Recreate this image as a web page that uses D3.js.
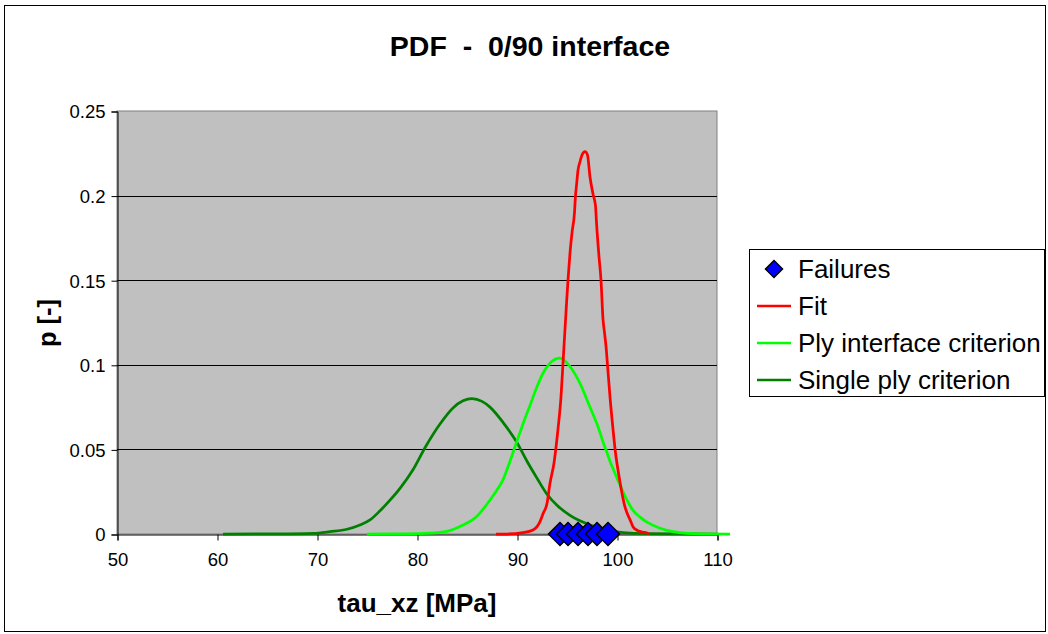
<!DOCTYPE html>
<html><head><meta charset="utf-8">
<script src="https://cdn.jsdelivr.net/npm/d3@7"></script>
<style>body{margin:0;background:#fff}svg text{font-family:Arial,"Liberation Sans",sans-serif}</style>
</head><body>
<svg id="c" width="1048" height="634"></svg>
<script>
const xTicks = [50,60,70,80,90,100,110];
const yTicks = [0,0.05,0.1,0.15,0.2,0.25];
const yTickLabels = ["0","0.05","0.1","0.15","0.2","0.25"];
const failures = [94.3,95.1,96.1,97.1,98.0,99.1];
const fit = [[87.9,0],[89,0],[90.6,0.0008],[91.6,0.0024],[92.3,0.0073],[92.6,0.012],[93.0,0.018],[93.3,0.030],[93.7,0.042],[94.1,0.062],[94.4,0.081],[94.6,0.101],[94.8,0.121],[94.95,0.136],[95.1,0.150],[95.3,0.166],[95.5,0.178],[95.75,0.190],[95.85,0.200],[95.95,0.206],[96.1,0.215],[96.3,0.220],[96.5,0.224],[96.8,0.226],[97.05,0.224],[97.3,0.211],[97.6,0.201],[97.85,0.194],[97.95,0.184],[98.2,0.164],[98.4,0.150],[98.6,0.127],[98.75,0.119],[98.9,0.111],[99.05,0.100],[99.3,0.081],[99.6,0.062],[99.85,0.048],[100.15,0.036],[100.5,0.024],[100.8,0.016],[101.1,0.011],[101.3,0.0085],[101.6,0.0043],[102.0,0.0022],[102.5,0.0012],[103.0,0.0006],[103.2,0]];
const plyInterface = [[75,0],[79,0.0001],[81.3,0.0005],[83.0,0.0016],[84.6,0.0053],[86.0,0.0105],[87.3,0.0201],[88.0,0.026],[88.6,0.032],[89.3,0.043],[90.0,0.055],[90.6,0.065],[91.3,0.076],[92.0,0.087],[92.6,0.095],[93.3,0.101],[94.3,0.104],[95.3,0.099],[96.3,0.089],[97.3,0.075],[98.0,0.065],[98.3,0.060],[98.6,0.0545],[99.0,0.048],[99.3,0.043],[99.65,0.038],[100.0,0.033],[100.3,0.029],[100.6,0.025],[101.0,0.020],[101.6,0.014],[102.3,0.010],[103.0,0.0070],[104.3,0.0034],[105.6,0.0014],[107,0.0004],[108.5,0.0001],[111.3,0]];
const singlePly = [[60.6,0],[66,0.0001],[69.6,0.0004],[71.3,0.0014],[73.0,0.0028],[74.3,0.0053],[75.3,0.0083],[76.3,0.0137],[77.3,0.020],[78.3,0.027],[79.6,0.038],[80.8,0.051],[82.3,0.065],[83.6,0.0745],[84.6,0.0787],[85.5,0.080],[86.5,0.0784],[87.3,0.075],[88.6,0.066],[90.0,0.054],[91.0,0.043],[92.0,0.033],[93.0,0.0235],[94.0,0.017],[95.3,0.011],[97.0,0.006],[98.5,0.003],[100.6,0.0008],[103,0.0002],[110,0]];
const legendItems = ["Failures","Fit","Ply interface criterion","Single ply criterion"];
const colors = {fit:"#FF0000", ply:"#00FF00", single:"#008000", fail:"#0000FF"};

const svg = d3.select("#c");
const L=117, R=717, T=111, B=534;
const x = d3.scaleLinear().domain([50,110]).range([L,R]);
const y = d3.scaleLinear().domain([0,0.25]).range([B,T]);

svg.append("rect").attr("x",4.5).attr("y",5.5).attr("width",1041).attr("height",626).attr("fill","#fff").attr("stroke","#000").attr("stroke-width",1);

svg.append("rect").attr("x",L).attr("y",T).attr("width",R-L).attr("height",B-T).attr("fill","#C0C0C0").attr("stroke","#808080").attr("stroke-width",1);

// gridlines
svg.append("g").selectAll("line").data(yTicks.slice(1,-1)).join("line")
  .attr("x1",L).attr("x2",R).attr("y1",d=>Math.round(y(d))+0.5).attr("y2",d=>Math.round(y(d))+0.5)
  .attr("stroke","#000").attr("stroke-width",1);

// axes
const yAxis = d3.axisLeft(y).tickValues(yTicks).tickFormat((d,i)=>yTickLabels[i]).tickSizeOuter(0).tickSize(6).tickPadding(6);
const gy = svg.append("g").attr("transform",`translate(${L+0.5},0.5)`).call(yAxis);
const xAxis = d3.axisBottom(x).tickValues(xTicks).tickFormat(d3.format("d")).tickSizeOuter(0).tickSize(6).tickPadding(12);
const gx = svg.append("g").attr("transform",`translate(0.5,${B+0.5})`).call(xAxis);
[gx,gy].forEach(g=>{g.selectAll("path,line").attr("stroke","#000");g.selectAll("text").attr("font-size",18.5).attr("fill","#000").attr("font-family","Arial, 'Liberation Sans', sans-serif");});
gy.selectAll("text").attr("dy","0.35em");

const line = d3.line().x(d=>x(d[0])).y(d=>y(d[1])).curve(d3.curveMonotoneX);
const series = [[singlePly,colors.single],[plyInterface,colors.ply],[fit,colors.fit]];
svg.append("g").selectAll("path").data(series).join("path")
  .attr("d",d=>line(d[0])).attr("fill","none").attr("stroke",d=>d[1]).attr("stroke-width",2.75).attr("stroke-linejoin","round");

const diamond = (cx,cy,r)=>`M${cx},${cy-r}L${cx+r},${cy}L${cx},${cy+r}L${cx-r},${cy}Z`;
svg.append("g").selectAll("path").data(failures).join("path")
  .attr("d",d=>diamond(x(d),y(0),11.5)).attr("fill",colors.fail).attr("stroke","#000").attr("stroke-width",1.5);

// titles
svg.append("text").attr("x",530).attr("y",56).attr("text-anchor","middle").attr("font-size",28.5).attr("font-weight","bold").style("white-space","pre").text("PDF  -  0/90 interface");
svg.append("text").attr("x",417).attr("y",612).attr("text-anchor","middle").attr("font-size",26).attr("font-weight","bold").text("tau_xz [MPa]");
svg.append("text").attr("transform","translate(56,323) rotate(-90)").attr("text-anchor","middle").attr("font-size",25.5).attr("font-weight","bold").text("p [-]");

// legend
const lg = svg.append("g");
lg.append("rect").attr("x",749.5).attr("y",249.5).attr("width",295).attr("height",147).attr("fill","#fff").attr("stroke","#000");
const rowY = [269,306,343,380];
const legColors = [colors.fail,colors.fit,colors.ply,colors.single];
legendItems.forEach((t,i)=>{
  if(i===0){
    lg.append("path").attr("d",diamond(774,rowY[i],8.5)).attr("fill",colors.fail).attr("stroke","#000").attr("stroke-width",1.5);
  } else {
    lg.append("line").attr("x1",757).attr("x2",791).attr("y1",rowY[i]).attr("y2",rowY[i]).attr("stroke",legColors[i]).attr("stroke-width",2.5);
  }
  lg.append("text").attr("x",798).attr("y",rowY[i]).attr("dy","0.36em").attr("font-size",26).text(t);
});
</script>
</body></html>
